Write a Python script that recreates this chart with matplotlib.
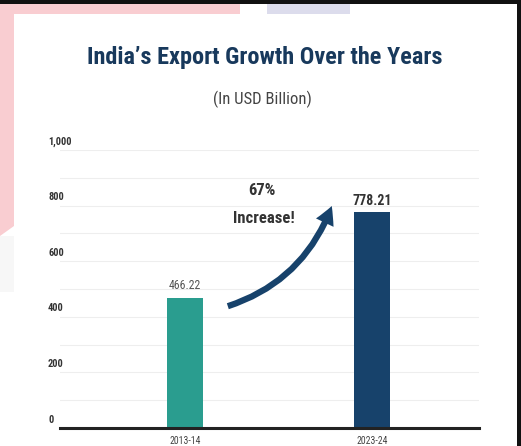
import matplotlib.pyplot as plt
import matplotlib.patches as mpatches
from matplotlib import font_manager

years = ["2013-14", "2023-24"]
exports = [466.22, 778.21]
value_labels = ["466.22", "778.21"]
ytick_values = [0, 200, 400, 600, 800, 1000]
ytick_labels = ["0", "200", "400", "600", "800", "1,000"]
grid_values = list(range(100, 1001, 100))

names = {f.name for f in font_manager.fontManager.ttflist}
narrow = "DejaVu Sans"
for cand in ["Roboto Condensed", "Liberation Sans Narrow", "DejaVu Sans Condensed", "Open Sans Condensed", "Roboto"]:
    if cand in names:
        narrow = cand
        break

W, H = 521, 446
fig = plt.figure(figsize=(W / 100, H / 100), dpi=100)
fig.patch.set_facecolor("white")

# background bits of the screenshot
bg = fig.add_axes([0, 0, 1, 1])
bg.set_xlim(0, W)
bg.set_ylim(H, 0)
bg.axis("off")
bg.add_patch(mpatches.Polygon([(0, 4), (240, 4), (240, 14), (14, 14), (14, 226), (0, 236)],
                              closed=True, color="#f9cdd1", lw=0))
bg.add_patch(mpatches.Rectangle((267, 4), 83, 10, color="#dcdcec", lw=0))
bg.add_patch(mpatches.Rectangle((0, 236), 14, 56, color="#f7f7f7", lw=0))
bg.add_patch(mpatches.Rectangle((0, 0), W, 4, color="#111111", lw=0))
bg.add_patch(mpatches.Rectangle((517, 0), 4, H, color="#111111", lw=0))

# axes: x 60..479 px, y 150..428 px
ax = fig.add_axes([60 / W, 1 - 428 / H, 419 / W, 278 / H])
ax.set_facecolor("none")
ax.set_ylim(0, 1000)
ax.set_xlim(-0.668, 1.572)
for v in grid_values:
    ax.axhline(v, color="#eeeeee", lw=0.8, zorder=0)
ax.bar([0, 1], exports, width=0.19, color=["#2a9d8f", "#17426b"], zorder=2)
for s in ["top", "right", "left"]:
    ax.spines[s].set_visible(False)
ax.spines["bottom"].set_color("#222222")
ax.spines["bottom"].set_linewidth(2.2)
ax.set_yticks([])
ax.set_xticks([])

for v, lab in zip(ytick_values, ytick_labels):
    ax.text(-0.732, v + 30, lab, ha="left", va="center", fontsize=7.5,
            color="#333333", fontweight="bold", family=narrow)

for i, y in enumerate(years):
    ax.text(i, -30, y, ha="center", va="top", fontsize=7, color="#444444", family=narrow)

ax.text(0, exports[0] + 45, value_labels[0], ha="center", va="center",
        fontsize=8.5, color="#555555", family=narrow)
ax.text(1, exports[1] + 40, value_labels[1], ha="center", va="center",
        fontsize=10, color="#333333", fontweight="bold", family=narrow)

ax.text(0.41, 855, "67%", ha="center", va="center", fontsize=12,
        color="#333333", fontweight="bold", family=narrow)
ax.text(0.42, 755, "Increase!", ha="center", va="center", fontsize=12,
        color="#333333", fontweight="bold", family=narrow)

arrow = mpatches.FancyArrowPatch((0.215, 435), (0.79, 808),
                                 connectionstyle="arc3,rad=0.25",
                                 arrowstyle="simple,head_length=13,head_width=14,tail_width=4.5",
                                 color="#17426b", lw=0, zorder=3)
ax.add_patch(arrow)

fig.text(265 / W, 1 - 58 / H, "India\u2019s Export Growth Over the Years", ha="center", va="center",
         fontsize=17.5, fontweight="bold", color="#18395c", family=narrow)
fig.text(262 / W, 1 - 99 / H, "(In USD Billion)", ha="center", va="center",
         fontsize=12, color="#444444", family=narrow)

fig.savefig("out.png", dpi=100, facecolor="white")
